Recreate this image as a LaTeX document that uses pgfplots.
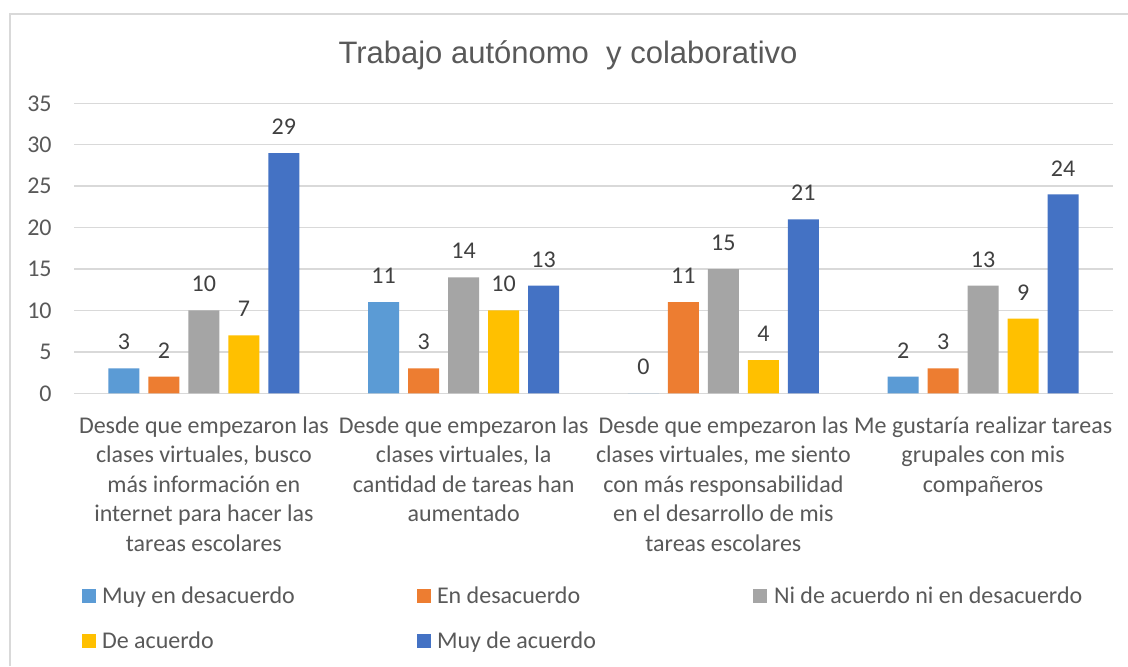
\documentclass[border=0pt]{standalone}
\usepackage{pgfplots}
\pgfplotsset{compat=1.18}
\usepackage{fontspec}
\setmainfont{Carlito}
\newfontfamily\titlefont{Liberation Sans}
\definecolor{c1}{HTML}{5B9BD5}
\definecolor{c2}{HTML}{ED7D31}
\definecolor{c3}{HTML}{A5A5A5}
\definecolor{c4}{HTML}{FFC000}
\definecolor{c5}{HTML}{4472C4}
\definecolor{txt}{HTML}{595959}
\definecolor{lbl}{HTML}{404040}
\definecolor{gridc}{HTML}{D9D9D9}
\newcommand\lgd[2]{\makebox[#1][l]{\rule[-2.75pt]{0pt}{11.5pt}#2}}
\begin{document}
\begin{tikzpicture}
\useasboundingbox (0,0) rectangle (564pt,333pt);
\fill[white] (0,0) rectangle (564pt,333pt);
\draw[gridc, line width=0.75pt] (5pt,0) -- (5pt,326pt) -- (564pt,326pt);
\node[anchor=base, text=txt, font=\titlefont\fontsize{15.5}{19}\selectfont] at (284pt,301.5pt) {Trabajo autónomo\ \ y colaborativo};
\begin{axis}[
 at={(37pt,136.35pt)}, anchor=south west,
 scale only axis, width=519.5pt, height=145pt,
 ybar=4.5pt, bar width=15.5pt,
 xmin=-0.5, xmax=3.5, ymin=0, ymax=35,
 xtick={0,1,2,3},
 xticklabels={{Desde que empezaron las\\clases virtuales, busco\\más información en\\internet para hacer las\\tareas escolares},
 {Desde que empezaron las\\clases virtuales, la\\cantidad de tareas han\\aumentado},
 {Desde que empezaron las\\clases virtuales, me siento\\con más responsabilidad\\en el desarrollo de mis\\tareas escolares},
 {Me gustaría realizar tareas\\grupales con mis\\compañeros}},
 ytick={0,5,...,35},
 major tick length=0pt,
 axis line style={draw=none},
 ymajorgrids, grid style={gridc, line width=0.75pt},
 tick label style={font=\fontsize{12}{14.75}\selectfont, text=txt},
 xticklabel style={align=center, inner sep=0pt, yshift=-11.5pt},
 yticklabel style={inner sep=0pt, xshift=-11pt},
 /pgf/number format/assume math mode=true,
 nodes near coords,
 every node near coord/.append style={font=\fontsize{12}{14}\selectfont, text=lbl, inner sep=0pt, yshift=9pt},
 legend columns=3, legend cell align=left,
 legend style={draw=none, fill=none, inner sep=0pt, outer sep=0pt,
   at={(0.0077,-0.664)}, anchor=north west,
   font=\fontsize{12}{14}\selectfont, text=txt,
   row sep=12.2pt, column sep=0pt, nodes={inner sep=0pt},
   /tikz/every odd column/.append style={column sep=3pt}},
 legend image code/.code={\fill[#1] (0pt,-3.5pt) rectangle (7pt,3.5pt);},
 clip=false,
]
\addplot[fill=c1, draw=none] coordinates {(0,3) (1,11) (2,0) (3,2)};
\addlegendentry{\lgd{157.5pt}{Muy en desacuerdo}}
\addplot[fill=c2, draw=none] coordinates {(0,2) (1,3) (2,11) (3,3)};
\addlegendentry{\lgd{158pt}{En desacuerdo}}
\addplot[fill=c3, draw=none] coordinates {(0,10) (1,14) (2,15) (3,13)};
\addlegendentry{\lgd{0pt}{Ni de acuerdo ni en desacuerdo}}
\addplot[fill=c4, draw=none] coordinates {(0,7) (1,10) (2,4) (3,9)};
\addlegendentry{\lgd{157.5pt}{De acuerdo}}
\addplot[fill=c5, draw=none] coordinates {(0,29) (1,13) (2,21) (3,24)};
\addlegendentry{\lgd{158pt}{Muy de acuerdo}}
\end{axis}
\end{tikzpicture}
\end{document}
